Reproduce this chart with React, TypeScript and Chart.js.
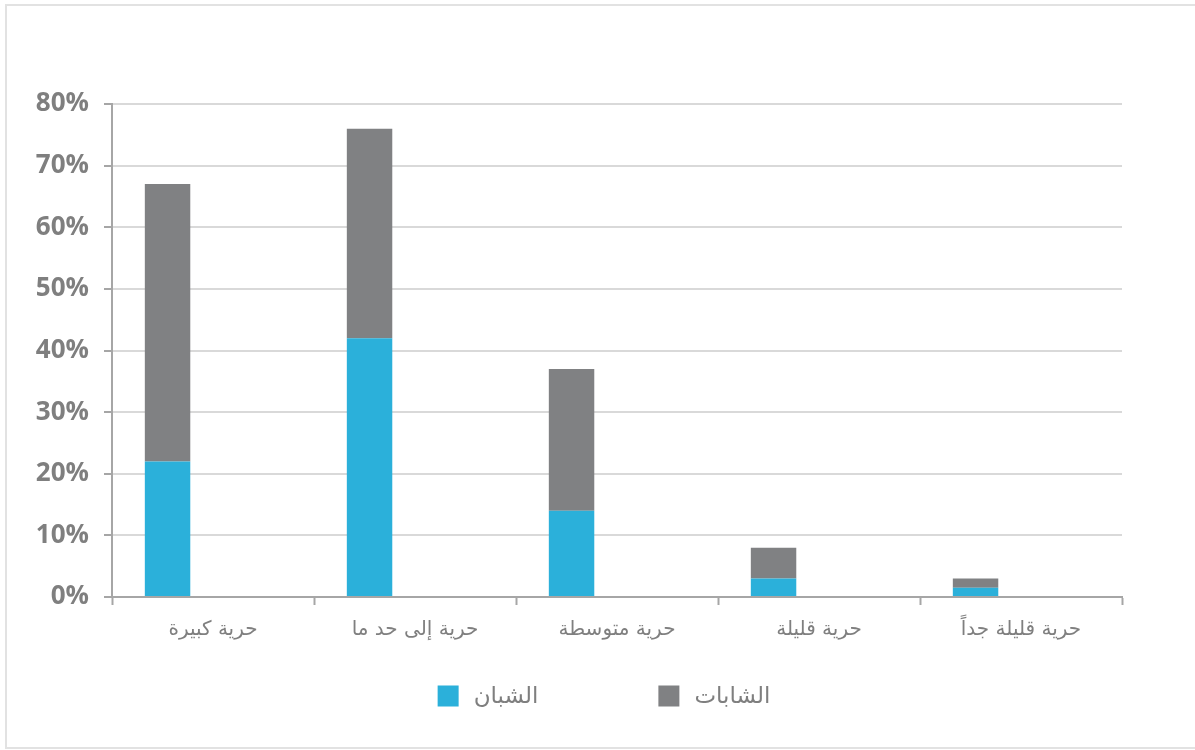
import React, { useEffect, useRef } from "react";
import { Chart, registerables } from "chart.js";

Chart.register(...registerables);

const categories = ["حرية كبيرة", "حرية إلى حد ما", "حرية متوسطة", "حرية قليلة", "حرية قليلة جداً"];
const youngMen = [22, 42, 14, 3, 1.5];
const youngWomen = [45, 34, 23, 5, 1.5];
const spacer = [0, 0, 0, 0, 0];
const yTicks = [0, 10, 20, 30, 40, 50, 60, 70, 80];
const seriesNames = ["الشبان", "الشابات"];

const BLUE = "#2bb0da";
const GRAY = "#808183";
const AXIS = "#a6a6a6";
const GRID = "#d9d9d9";
const TEXT = "#7f7f7f";
const ARABIC_FONT = "'DejaVu Sans', 'Noto Sans', sans-serif";

const framePlugin = {
  id: "frame",
  beforeDraw(chart: any) {
    const ctx = chart.ctx;
    ctx.save();
    ctx.fillStyle = "#ffffff";
    ctx.fillRect(0, 0, chart.width, chart.height);
    ctx.strokeStyle = "#e2e2e2";
    ctx.lineWidth = 2;
    ctx.strokeRect(6, 5, chart.width + 20, chart.height - 7);
    ctx.restore();
  },
};

const legendPlugin = {
  id: "customLegend",
  afterDraw(chart: any) {
    const ctx = chart.ctx;
    const items = chart.data.datasets.filter((d: any) => d.label);
    const box = 21;
    const gap = 15;
    const spacing = 120;
    ctx.save();
    ctx.font = `23px ${ARABIC_FONT}`;
    const widths = items.map((d: any) => box + gap + ctx.measureText(d.label).width);
    const total = widths.reduce((a: number, b: number) => a + b, 0) + spacing * (items.length - 1);
    let x = 604 - total / 2;
    const cy = 696;
    items.forEach((d: any, i: number) => {
      ctx.fillStyle = d.backgroundColor;
      ctx.fillRect(x, cy - box / 2, box, box);
      ctx.fillStyle = TEXT;
      ctx.textAlign = "left";
      ctx.textBaseline = "middle";
      ctx.fillText(d.label, x + box + gap, cy + 1);
      x += widths[i] + spacing;
    });
    ctx.restore();
  },
};

export default function App() {
  const ref = useRef<HTMLCanvasElement | null>(null);

  useEffect(() => {
    if (!ref.current) return;
    const chart = new Chart(ref.current, {
      type: "bar",
      data: {
        labels: categories,
        datasets: [
          {
            label: seriesNames[0],
            data: youngMen,
            backgroundColor: BLUE,
            stack: "a",
            categoryPercentage: 0.9,
            barPercentage: 0.5,
          },
          {
            label: seriesNames[1],
            data: youngWomen,
            backgroundColor: GRAY,
            stack: "a",
            categoryPercentage: 0.9,
            barPercentage: 0.5,
          },
          {
            label: "",
            data: spacer,
            backgroundColor: "rgba(0,0,0,0)",
            stack: "b",
            categoryPercentage: 0.9,
            barPercentage: 0.5,
          },
        ],
      },
      options: {
        responsive: false,
        animation: false,
        layout: { padding: { top: 104, right: 73, left: 0, bottom: 0 } },
        plugins: {
          legend: { display: false },
          tooltip: { enabled: false },
          title: { display: false },
        },
        scales: {
          x: {
            stacked: true,
            offset: true,
            grid: {
              offset: true,
              drawOnChartArea: false,
              drawTicks: true,
              tickLength: 8,
              tickColor: AXIS,
              tickWidth: 2,
            },
            border: { color: AXIS, width: 2 },
            ticks: {
              color: TEXT,
              font: { family: ARABIC_FONT, size: 20 },
              padding: 13,
              maxRotation: 0,
            },
            afterFit: (s: any) => {
              s.height = 153;
            },
          },
          y: {
            stacked: true,
            min: 0,
            max: 80,
            afterBuildTicks: (s: any) => {
              s.ticks = yTicks.map((v) => ({ value: v }));
            },
            ticks: {
              callback: (v: any) => v + "%",
              color: TEXT,
              font: { family: "'Open Sans', 'DejaVu Sans', sans-serif", size: 26, weight: "bold" },
              padding: 15,
            },
            grid: {
              color: GRID,
              lineWidth: 2,
              tickLength: 8,
              tickColor: AXIS,
              tickWidth: 2,
            },
            border: { color: AXIS, width: 2 },
            afterFit: (s: any) => {
              s.width = 112;
            },
          },
        },
      },
      plugins: [framePlugin, legendPlugin],
    });
    return () => chart.destroy();
  }, []);

  return (
    <div style={{ position: "absolute", left: 0, top: 0, width: 1195, height: 750 }}>
      <canvas ref={ref} width={1195} height={750} />
    </div>
  );
}
